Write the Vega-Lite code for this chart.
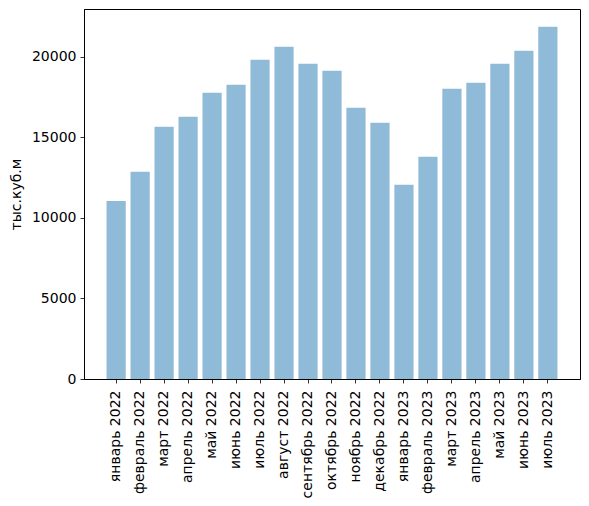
{
  "$schema": "https://vega.github.io/schema/vega-lite/v6.json",
  "width": 496,
  "height": 370,
  "autosize": "none",
  "padding": {"left": 84, "top": 9, "right": 9, "bottom": 127},
  "background": "white",
  "data": {
    "values": [
      {"month": "январь 2022", "volume": 11056},
      {"month": "февраль 2022", "volume": 12878},
      {"month": "март 2022", "volume": 15673},
      {"month": "апрель 2022", "volume": 16294},
      {"month": "май 2022", "volume": 17785},
      {"month": "июнь 2022", "volume": 18282},
      {"month": "июль 2022", "volume": 19834},
      {"month": "август 2022", "volume": 20642},
      {"month": "сентябрь 2022", "volume": 19586},
      {"month": "октябрь 2022", "volume": 19151},
      {"month": "ноябрь 2022", "volume": 16853},
      {"month": "декабрь 2022", "volume": 15921},
      {"month": "январь 2023", "volume": 12070},
      {"month": "февраль 2023", "volume": 13810},
      {"month": "март 2023", "volume": 18033},
      {"month": "апрель 2023", "volume": 18406},
      {"month": "май 2023", "volume": 19586},
      {"month": "июнь 2023", "volume": 20393},
      {"month": "июль 2023", "volume": 21884}
    ]
  },
  "mark": {"type": "bar", "color": "#1f77b4", "opacity": 0.5},
  "encoding": {
    "x": {
      "field": "month",
      "type": "nominal",
      "sort": null,
      "title": null,
      "scale": {"paddingInner": 0.2, "paddingOuter": 0.94},
      "axis": {"labelAngle": 270, "labelAlign": "right", "labelBaseline": "middle", "labelPadding": 7}
    },
    "y": {
      "field": "volume",
      "type": "quantitative",
      "title": "тыс.куб.м",
      "scale": {"domain": [0, 22980], "nice": false},
      "axis": {"values": [0, 5000, 10000, 15000, 20000], "format": "d", "titlePadding": 8, "labelPadding": 4}
    }
  },
  "config": {
    "view": {"stroke": "black", "strokeWidth": 1},
    "axis": {
      "grid": false,
      "domainColor": "black",
      "domainWidth": 1,
      "tickColor": "black",
      "tickSize": 4,
      "tickWidth": 0.8,
      "labelFont": "DejaVu Sans",
      "labelFontSize": 14,
      "labelColor": "black",
      "titleFont": "DejaVu Sans",
      "titleFontSize": 14,
      "titleFontWeight": "normal",
      "titleColor": "black"
    }
  }
}
